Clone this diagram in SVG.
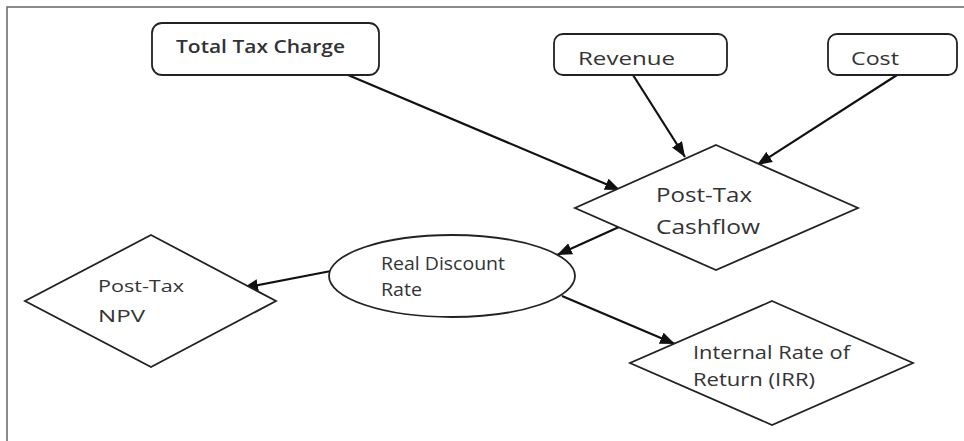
<svg xmlns="http://www.w3.org/2000/svg" width="964" height="441" viewBox="0 0 964 441">
<style>
.shape{fill:#fff;stroke:#222;stroke-width:1.8}
.edge{stroke:#111;stroke-width:2.2;fill:none}
.frame{stroke:#666;stroke-width:1.5;fill:none}
text{font-family:"Open Sans","Noto Sans","DejaVu Sans",sans-serif;fill:#333}
</style>
<defs>
<marker id="ah" markerUnits="userSpaceOnUse" markerWidth="16" markerHeight="12" refX="15" refY="6" orient="auto">
<path d="M0,0 L15,6 L0,12 z" fill="#111"/>
</marker>
</defs>
<rect width="964" height="441" fill="#fff"/>
<path class="frame" d="M7,441 L7,7 L964,7"/>

<g id="connectors">
<line class="edge" x1="348" y1="75" x2="620" y2="190" marker-end="url(#ah)"/>
<line class="edge" x1="633" y1="75" x2="685" y2="157" marker-end="url(#ah)"/>
<line class="edge" x1="897" y1="75" x2="757" y2="165" marker-end="url(#ah)"/>
<line class="edge" x1="619" y1="227" x2="557" y2="255" marker-end="url(#ah)"/>
<line class="edge" x1="331" y1="271" x2="243" y2="288" marker-end="url(#ah)"/>
<line class="edge" x1="562" y1="296" x2="675" y2="344" marker-end="url(#ah)"/>
</g>

<g id="total-tax-charge">
<rect class="shape" x="152" y="23" width="227" height="52" rx="10"/>
<text x="176" y="53" font-size="18.5" font-weight="600" textLength="169" lengthAdjust="spacingAndGlyphs">Total Tax Charge</text>
</g>
<g id="revenue">
<rect class="shape" x="554" y="34" width="173" height="41" rx="9"/>
<text x="578" y="65" font-size="19" textLength="97" lengthAdjust="spacingAndGlyphs">Revenue</text>
</g>
<g id="cost">
<rect class="shape" x="828" y="34" width="129" height="41" rx="9"/>
<text x="851" y="65" font-size="19" textLength="48" lengthAdjust="spacingAndGlyphs">Cost</text>
</g>
<g id="post-tax-cashflow">
<polygon class="shape" points="716,145 858,208 716,270 575,208"/>
<text x="656" y="202" font-size="20.5" textLength="96" lengthAdjust="spacingAndGlyphs">Post-Tax</text>
<text x="656" y="234" font-size="20.5" textLength="104" lengthAdjust="spacingAndGlyphs">Cashflow</text>
</g>
<g id="real-discount-rate">
<ellipse class="shape" cx="452" cy="276" rx="123" ry="41"/>
<text x="381" y="270" font-size="17.5" textLength="124" lengthAdjust="spacingAndGlyphs">Real Discount</text>
<text x="381" y="296" font-size="17.5" textLength="41" lengthAdjust="spacingAndGlyphs">Rate</text>
</g>
<g id="post-tax-npv">
<polygon class="shape" points="151,235 276,301 151,367 25,301"/>
<text x="98" y="292" font-size="17" textLength="86" lengthAdjust="spacingAndGlyphs">Post-Tax</text>
<text x="98" y="322" font-size="17" textLength="47" lengthAdjust="spacingAndGlyphs">NPV</text>
</g>
<g id="irr">
<polygon class="shape" points="772,301 913,363 772,425 630,363"/>
<text x="693" y="359" font-size="18" textLength="157" lengthAdjust="spacingAndGlyphs">Internal Rate of</text>
<text x="693" y="386" font-size="18" textLength="122" lengthAdjust="spacingAndGlyphs">Return (IRR)</text>
</g>
</svg>
